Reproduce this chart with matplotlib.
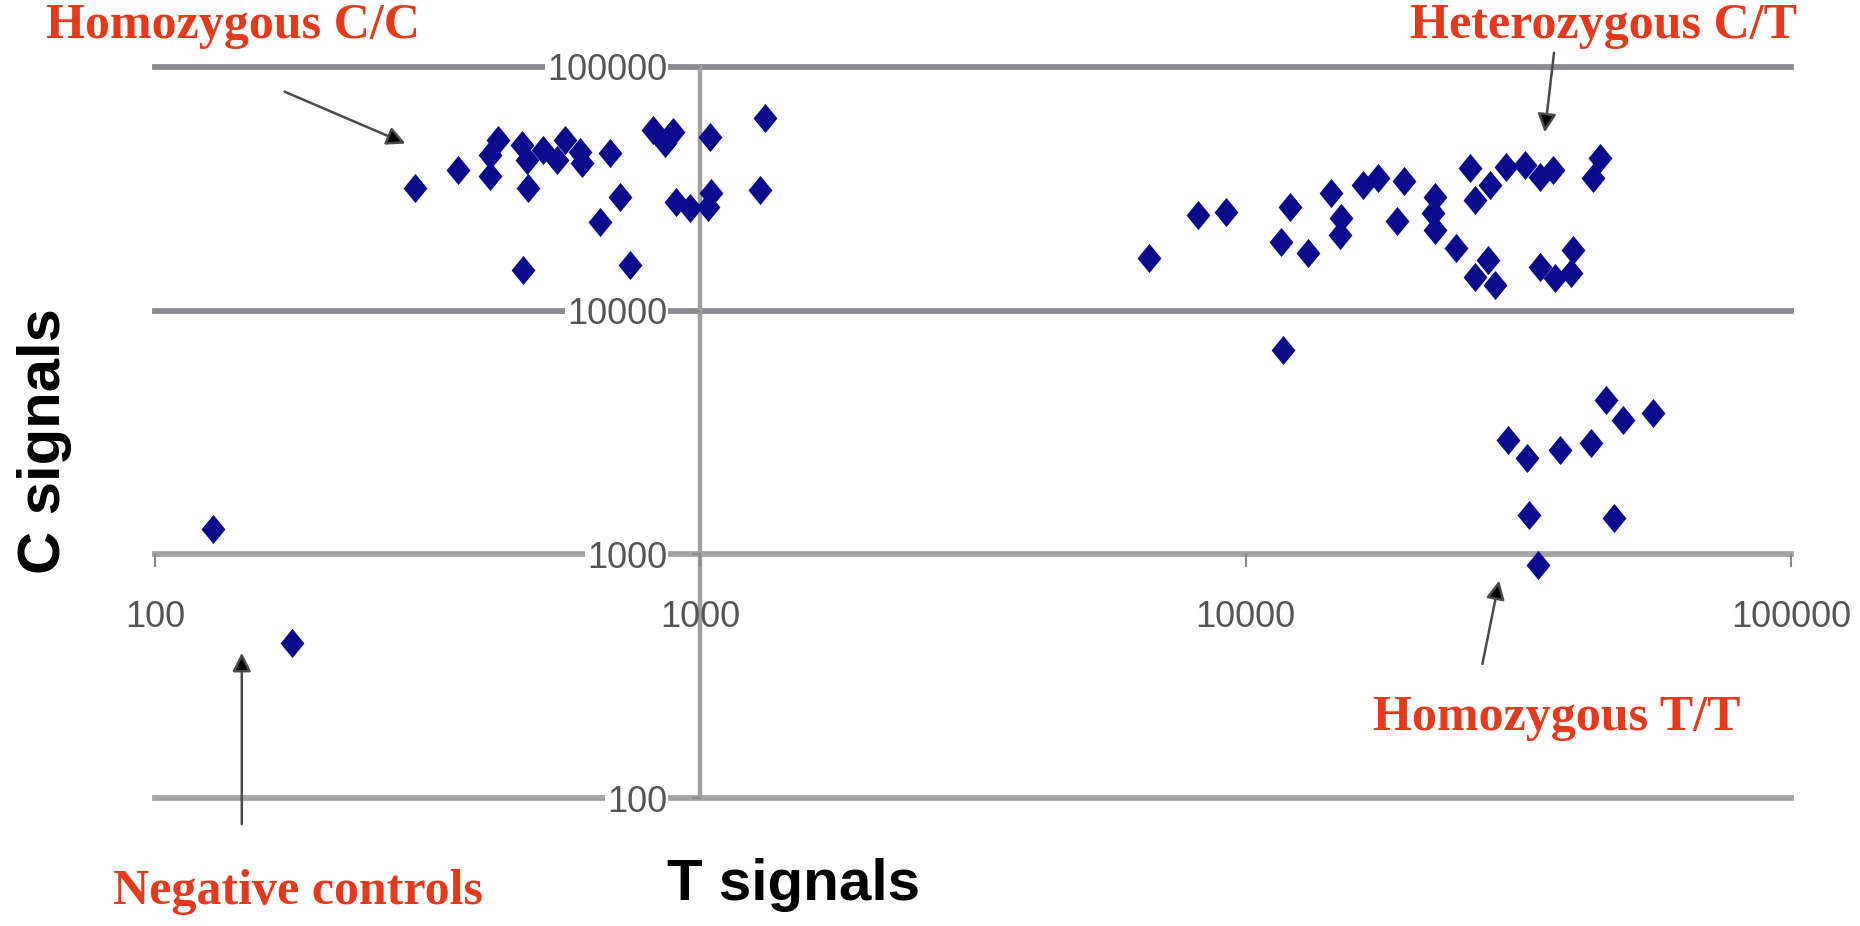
import numpy as np
import matplotlib
matplotlib.use("Agg")
import matplotlib.pyplot as plt
from matplotlib.path import Path

# T signal (x) and C signal (y) for each genotype group
cc_t = [300, 359, 411, 411, 426, 470, 480, 483, 515, 545, 564, 601, 606, 683,
        712, 654, 473, 743, 819, 891, 861, 1041, 1313, 904, 957, 1048, 1033, 1285]
cc_c = [31800, 37800, 35700, 43500, 50200, 47900, 41550, 31800, 45640, 41550,
        50200, 44930, 40260, 44240, 29370, 23190, 14690, 15400, 55140, 54260,
        48630, 51760, 61580, 28010, 26320, 30320, 26720, 31280]

het_t = [6650, 8180, 9190, 12040, 11630, 13010, 14360, 14980, 14870, 16410,
         17480, 19490, 18910, 22210, 22050, 22210, 24340, 25740, 26290, 28010,
         30060, 32480, 34590, 36590, 44560, 43320, 26290, 28610, 27810, 34590,
         36850, 39810, 39540, 11700]
het_c = [16410, 24700, 25480, 26560, 19190, 17300, 30320, 23940, 20440, 32800,
         34940, 34060, 23340, 29370, 25100, 21440, 18030, 38400, 28460, 32800,
         38980, 39620, 35460, 37800, 42210, 34940, 13790, 12750, 16140, 15150,
         13580, 17750, 14240, 6900]

tt_t = [45830, 49180, 55810, 30260, 32800, 37640, 43030, 33080, 47290, 34350]
tt_c = [4300, 3560, 3790, 2950, 2480, 2680, 2860, 1450, 1410, 905]

neg_t = [128, 178]
neg_c = [1270, 433]

decades = [100, 1000, 10000, 100000]
tick_labels = ["100", "1000", "10000", "100000"]

# label text, text centre, arrow tail, arrow tip (figure fraction)
annotations = [
    ("Homozygous C/C", (0.125, 0.972), (0.153, 0.901), (0.218, 0.845)),
    ("Heterozygous C/T", (0.862, 0.972), (0.8355, 0.943), (0.8305, 0.857)),
    ("Homozygous T/T", (0.837, 0.225), (0.797, 0.283), (0.806, 0.373)),
    ("Negative controls", (0.160, 0.037), (0.130, 0.110), (0.130, 0.295)),
]

navy = "#0a0a8c"
red = "#e5391c"

diamond = Path([(0, 1), (0.82, 0), (0, -1), (-0.82, 0), (0, 1)],
               [Path.MOVETO, Path.LINETO, Path.LINETO, Path.LINETO, Path.CLOSEPOLY])

fig = plt.figure(figsize=(18.6, 9.26), dpi=100)
ax = fig.add_axes([155/1860, 128/926, 1636/1860, 731/926])
ax.set_xscale("log")
ax.set_yscale("log")
ax.set_xlim(100, 100000)
ax.set_ylim(100, 100000)

# horizontal grid lines and the vertical axis at T = 1000
grid_cols = ["#a4a4a4", "#a4a4a4", "#8a8a90", "#8a8a90"]
for y, col in zip(decades, grid_cols):
    ax.axhline(y, color=col, lw=4.2, zorder=1, clip_on=False)
ax.axvline(1000, color="#a0a0a0", lw=3.2, zorder=1, clip_on=False)

for s in ax.spines.values():
    s.set_visible(False)
ax.spines["bottom"].set_position(("data", 1000))
ax.spines["left"].set_position(("data", 1000))

ax.set_xticks(decades)
ax.set_xticklabels(tick_labels)
ax.set_yticks(decades)
ax.set_yticklabels(tick_labels)
ax.minorticks_off()
ax.tick_params(axis="x", direction="out", length=9, width=1.5, color="#8a8a8a",
               pad=24, labelsize=26, labelcolor="#555555")
ax.tick_params(axis="y", direction="out", length=6, width=1.5, color="#8a8a8a",
               pad=18, labelsize=26, labelcolor="#555555")
for lab in ax.get_xticklabels() + ax.get_yticklabels():
    lab.set_family("Liberation Sans")
for lab in ax.get_yticklabels():
    lab.set_bbox(dict(fc="white", ec="none", pad=1))

for t, c in [(cc_t, cc_c), (het_t, het_c), (tt_t, tt_c), (neg_t, neg_c)]:
    ax.plot(t, c, linestyle="none", marker=diamond, markersize=21,
            color=navy, markeredgewidth=0, zorder=3, clip_on=False)

for text, pos, tail, tip in annotations:
    fig.text(pos[0], pos[1], text, ha="center", va="center", color=red,
             fontsize=36, fontweight="bold", family="Liberation Serif")
    ax.annotate("", xy=tip, xycoords="figure fraction", xytext=tail,
                textcoords="figure fraction",
                arrowprops=dict(arrowstyle="-|>", mutation_scale=28,
                                lw=1.8, ec="#4a4a4a", fc="black",
                                shrinkA=0, shrinkB=0))

fig.text(793/1860, 1 - 885/926, "T signals", ha="center", va="center",
         fontsize=42, fontweight="bold", family="Liberation Sans")
fig.text(45/1860, 1 - 441/926, "C signals", ha="center", va="center",
         rotation=90, fontsize=43, fontweight="bold", family="Liberation Sans")

fig.savefig("out.png", dpi=100, facecolor="white")
